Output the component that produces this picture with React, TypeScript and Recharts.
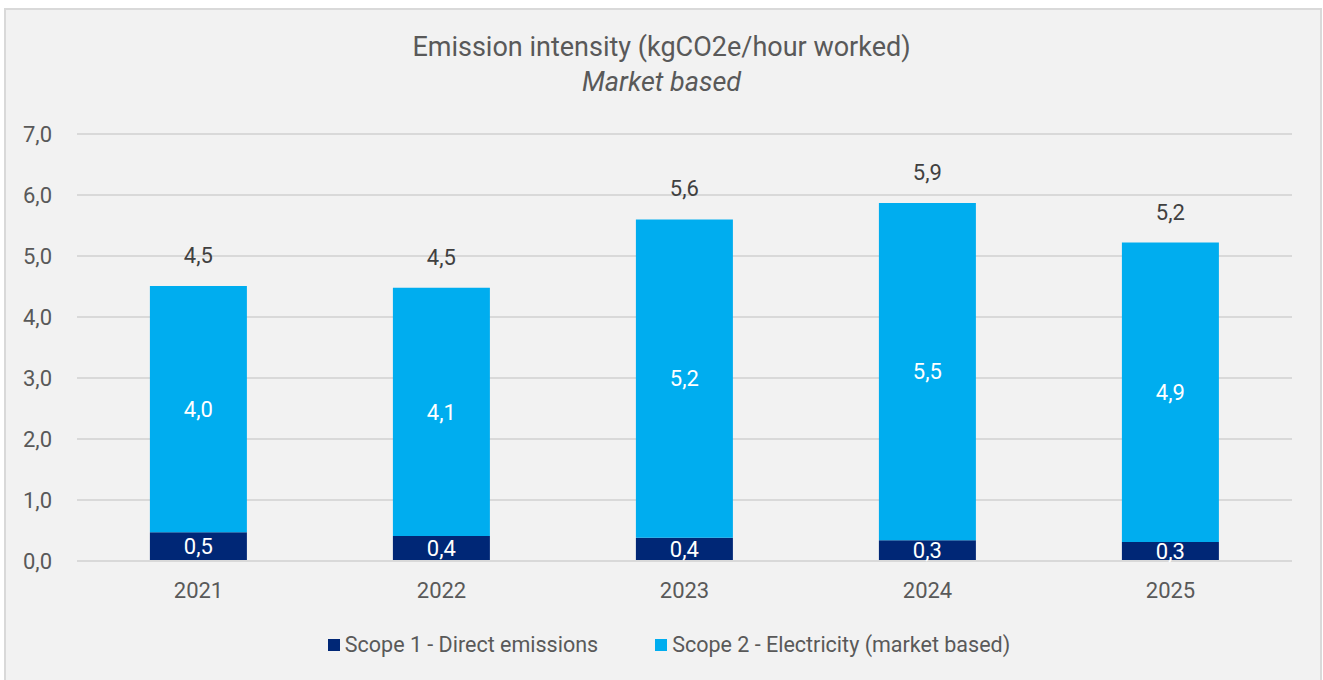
import React from "react";
import { BarChart, Bar, XAxis, YAxis, CartesianGrid, LabelList, Legend } from "recharts";

const years = ["2021", "2022", "2023", "2024", "2025"];
const scope1 = [0.47, 0.41, 0.38, 0.34, 0.31];
const scope2 = [4.04, 4.07, 5.22, 5.53, 4.91];
const totals = [4.5, 4.5, 5.6, 5.9, 5.2];
const yTicks = [0, 1, 2, 3, 4, 5, 6, 7];

const seriesNames = ["Scope 1 - Direct emissions", "Scope 2 - Electricity (market based)"];
const colors = ["#002776", "#00ADEF"];

const data = years.map((y, i) => ({ year: y, s1: scope1[i], s2: scope2[i], total: totals[i] }));

const FONT = "Roboto, 'Open Sans', sans-serif";
const fmt = (v: number) => v.toFixed(1).replace(".", ",");

const LegendContent = () => (
  <div style={{ display: "flex", justifyContent: "center", gap: 57, paddingLeft: 46, fontFamily: FONT, fontSize: 21.5, color: "#595959" }}>
    {seriesNames.map((n, i) => (
      <div key={n} style={{ display: "flex", alignItems: "center" }}>
        <div style={{ width: 12, height: 12, background: colors[i], marginRight: 5 }} />
        <span>{n}</span>
      </div>
    ))}
  </div>
);

export default function App() {
  return (
    <div style={{ position: "absolute", left: 0, top: 0, width: 1323, height: 680, background: "#fff" }}>
      <div
        style={{
          position: "absolute",
          left: 4,
          top: 8,
          width: 1314,
          height: 672,
          background: "#f2f2f2",
          borderLeft: "2px solid #d9d9d9",
          borderRight: "2px solid #d9d9d9",
          borderTop: "2px solid #d9d9d9",
        }}
      />
      <div style={{ position: "absolute", left: 0, top: 30, width: 1323, textAlign: "center", fontFamily: FONT, color: "#595959", fontSize: 27, lineHeight: "35px" }}>
        <div>Emission intensity (kgCO2e/hour worked)</div>
        <div style={{ fontStyle: "italic" }}>Market based</div>
      </div>
      <div style={{ position: "absolute", left: 0, top: 0 }}>
        <BarChart
          width={1323}
          height={680}
          data={data}
          margin={{ top: 134, right: 31, left: 0, bottom: 39 }}
          barCategoryGap="30%"
        >
          <CartesianGrid vertical={false} stroke="#d9d9d9" strokeWidth={2} />
          <XAxis
            dataKey="year"
            height={30}
            tickLine={false}
            axisLine={{ stroke: "#d9d9d9", strokeWidth: 2 }}
            tick={{ fill: "#595959", fontSize: 22, fontFamily: FONT }}
            tickMargin={15}
          />
          <YAxis
            width={77}
            domain={[0, 7]}
            ticks={yTicks}
            interval={0}
            axisLine={false}
            tickLine={false}
            tickMargin={19}
            tickFormatter={fmt}
            tick={{ fill: "#595959", fontSize: 22, fontFamily: FONT }}
          />
          <Legend verticalAlign="bottom" height={50} content={<LegendContent />} wrapperStyle={{ top: 632 }} />
          <Bar dataKey="s1" stackId="a" fill={colors[0]} isAnimationActive={false} name={seriesNames[0]}>
            <LabelList dataKey="s1" position="center" formatter={(v: any) => fmt(Number(v))} fill="#ffffff" style={{ fontSize: 22, fontFamily: FONT }} />
          </Bar>
          <Bar dataKey="s2" stackId="a" fill={colors[1]} isAnimationActive={false} name={seriesNames[1]}>
            <LabelList dataKey="s2" position="center" formatter={(v: any) => fmt(Number(v))} fill="#ffffff" style={{ fontSize: 22, fontFamily: FONT }} />
            <LabelList dataKey="total" position="top" offset={23} formatter={(v: any) => fmt(Number(v))} fill="#404040" style={{ fontSize: 22, fontFamily: FONT }} />
          </Bar>
        </BarChart>
      </div>
    </div>
  );
}
